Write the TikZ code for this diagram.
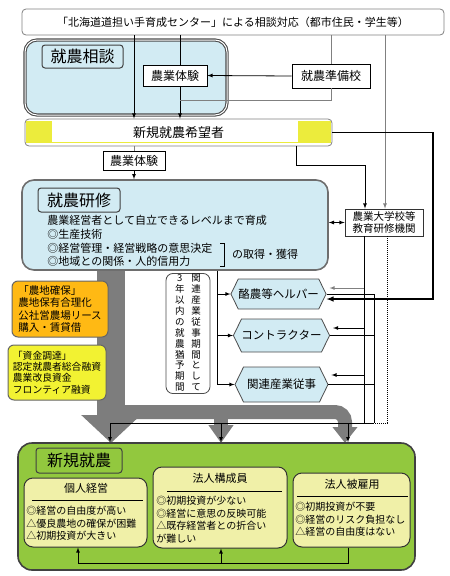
\documentclass[tikz,border=0pt]{standalone}
\usepackage{fontspec}
\setmainfont{Noto Sans CJK JP}
\usetikzlibrary{shapes.symbols, arrows.meta, positioning, backgrounds}

\definecolor{paleblue}{RGB}{210,235,243}
\definecolor{farmorange}{RGB}{255,185,20}
\definecolor{fundyellow}{RGB}{242,242,50}
\definecolor{markyellow}{RGB}{236,236,60}
\definecolor{startgreen}{RGB}{146,200,62}
\definecolor{paleyellow}{RGB}{240,240,168}
\definecolor{flowgray}{RGB}{125,125,125}
\definecolor{edgegray}{RGB}{110,110,110}

\begin{document}
\begin{tikzpicture}[x=1pt, y=-1pt, >=latex, line width=0.8pt,
    box/.style={draw, rectangle, fill=white, inner sep=1pt, font=\fontsize{12}{14}\selectfont},
    dims/.style 2 args={minimum width=#1pt, minimum height=#2pt},
    panel/.style={draw=edgegray, fill=paleblue, rounded corners=12pt, line width=1.6pt},
    tag/.style={draw=black!75, fill=paleblue, rounded corners=3pt, line width=1pt, inner sep=0pt, font=\fontsize{16}{18}\selectfont},
    hexa/.style={signal, signal to=west and east, signal pointer angle=128, draw=black!70, fill=paleblue, inner sep=0pt, font=\fontsize{11.5}{13}\selectfont},
    aid/.style={draw=black!60, rounded corners=6pt, line width=1pt, align=left, inner sep=2pt},
    choice/.style={draw=black!80, fill=paleyellow, rounded corners=9pt, line width=1pt},
    head/.style={inner sep=0pt, font=\fontsize{11}{13}\selectfont},
    merit/.style={anchor=north west, align=left, inner sep=0pt, font=\fontsize{10}{12.4}\selectfont},
    feed/.style={draw=gray},
    bigflow/.style={draw=flowgray, -{Triangle[#1]}}
  ]
  \useasboundingbox (0,0) rectangle (450,576);

  % Nodes
  \node[box, draw=gray, rounded corners=4pt, dims={422}{26}, font=\fontsize{11}{13}\selectfont] (center) at (233,22)
    {「北海道道担い手育成センター」による相談対応（都市住民・学生等）};

  \node[panel, draw=black!70, double=white, double distance=1pt, line width=1.1pt, dims={202}{75}] (soudan) at (126,77.5) {};
  \node[tag, dims={81}{23}] (soudanTag) at (82.5,56.5) {就農相談};
  \node[box, dims={64}{21}] (taiken1) at (175,75.5) {農業体験};
  \node[box, dims={78}{24}] (junbi) at (331,76) {就農準備校};

  \node[box, draw=gray, rounded corners=4pt, dims={307}{27}, font=\fontsize{13}{15}\selectfont] (kibou) at (178.5,132.5) {新規就農希望者};
  \fill[markyellow] ([xshift=1pt,yshift=-2pt]kibou.north west) rectangle ([xshift=27pt,yshift=3pt]kibou.south west);
  \fill[markyellow] ([xshift=-34pt,yshift=-2pt]kibou.north east) rectangle ([xshift=-1pt,yshift=3pt]kibou.south east);
  \draw[markyellow, line width=1pt] ([xshift=2pt,yshift=3.5pt]kibou.south west) -- ([xshift=-2pt,yshift=3.5pt]kibou.south east);

  \node[box, dims={62}{19}] (taiken2) at (134,160.5) {農業体験};

  \node[panel, dims={306}{90}] (kenshu) at (175,225) {};
  \node[tag, dims={82}{24}] (kenshuTag) at (79,200) {就農研修};
  \node[anchor=north west, align=left, inner sep=0pt, font=\fontsize{11}{13.7}\selectfont] (kenshuTxt) at (47,215)
    {農業経営者として自立できるレベルまで育成\\◎生産技術\\◎経営管理・経営戦略の意思決定\\◎地域との関係・人的信用力};
  \node[inner sep=0pt, font=\fontsize{11}{13}\selectfont] (gain) at (265,254) {の取得・獲得};
  \draw[line width=0.6pt] (220,243) -- (224,243) -- (224,266) -- (220,266);

  \node[box, draw=black!80, dims={78}{27}, align=center, inner sep=0pt, font=\fontsize{10.5}{12}\selectfont] (daigaku) at (384,222.5)
    {農業大学校等\\教育研修機関};

  \node[draw=black!70, rounded corners=7pt, fill=white, dims={44}{113}, inner sep=0pt, font=\fontsize{9.5}{10.2}\selectfont] (grace) at (188,333.5)
    {\setlength{\tabcolsep}{3.5pt}\begin{tabular}{@{}cc@{}}
      3&関\\年&連\\以&産\\内&業\\の&従\\就&事\\農&期\\猶&間\\予&と\\期&し\\間&て
    \end{tabular}};

  \node[hexa, dims={93}{30}] (helper) at (278.5,294) {酪農等ヘルパー};
  \node[hexa, dims={93}{33}] (contractor) at (281.5,335.5) {コントラクター};
  \node[hexa, dims={93}{35}] (related) at (281.5,384.5) {関連産業従事};

  \node[aid, fill=farmorange, dims={96}{56}, font=\fontsize{10.5}{12.3}\selectfont] (land) at (60,309)
    {「農地確保」\\農地保有合理化\\公社営農場リース\\購入・賃貸借};
  \node[aid, fill=fundyellow, dims={98}{55}, font=\fontsize{9.8}{11.2}\selectfont] (fund) at (57,372.5)
    {「資金調達」\\認定就農者総合融資\\農業改良資金\\フロンティア融資};

  \node[draw=black!75, fill=startgreen, rounded corners=14pt, line width=1.6pt, dims={397}{127}] (start) at (216.5,506.5) {};
  \node[tag, fill=startgreen, dims={86}{25}] (startTag) at (79,460.5) {新規就農};

  \node[choice, dims={123}{69}] (solo) at (85.5,512.5) {};
  \node[head] (soloT) at (86,488) {個人経営};
  \draw (32,500) -- (143,500);
  \node[merit] (soloTxt) at (26,506) {◎経営の自由度が高い\\△優良農地の確保が困難\\△初期投資が大きい};

  \node[choice, dims={134}{81}] (member) at (220,507.5) {};
  \node[head] (memberT) at (220,478) {法人構成員};
  \draw (167,491) -- (282,491);
  \node[merit] (memberTxt) at (156,496) {◎初期投資が少ない\\◎経営に意思の反映可能\\△既存経営者との折合い\\が難しい};

  \node[choice, dims={117}{74}] (staff) at (351.5,510) {};
  \node[head] (staffT) at (352,484) {法人被雇用};
  \draw (297,496) -- (408,496);
  \node[merit] (staffTxt) at (295,502) {◎初期投資が不要\\◎経営のリスク負担なし\\△経営の自由度はない};

  % Big flow arrows
  \begin{scope}[on background layer]
    \draw[bigflow={length=28pt, width=58pt}, line width=28pt] (111,268) -- (111,443);
    \draw[bigflow={length=16pt, width=24pt}, line width=14pt, rounded corners=10pt] (111,412) -- (345,412) -- (345,443);
    \draw[bigflow={length=18pt, width=24pt}, line width=14pt] (221,412) -- (221,443);
  \end{scope}

  % Connections
  \coordinate (c134) at (134,0);
  \coordinate (c180) at (180,0);
  \coordinate (c385) at (385,0);
  \coordinate (jb) at (180,100);
  \coordinate (kb) at (296,165);
  \coordinate (kd) at (365,165);
  \coordinate (kr) at (433,299);
  \coordinate (tr) at (217,0);
  \coordinate (da) at (364,423);
  \coordinate (in1) at (364,288);
  \coordinate (in2) at (364,328);
  \coordinate (in3) at (364,375);
  \coordinate (rt) at (374,423);
  \coordinate (dt) at (387,423);
  \coordinate (b1) at (110,423);
  \coordinate (b2) at (221,423);
  \coordinate (b3) at (348,423);
  \coordinate (lp) at (78,563);

  \draw[->] (center.south -| c134) -- (kibou.north -| c134);
  \draw (center.south -| c180) -- (taiken1.north -| c180);
  \draw[->] (taiken1.south -| c180) -- (kibou.north -| c180);
  \draw[feed] (center.south -| junbi) -- (junbi.north);
  \draw[->] (junbi.west) -- (taiken1.east);
  \draw[feed] (junbi.south) |- (jb);
  \draw[feed, ->] (center.south -| c385) -- (daigaku.north -| c385);

  \draw[feed] (kibou.south -| taiken2) -- (taiken2.north);
  \draw[->] (taiken2.south) -- (kenshu.north -| taiken2);
  \draw[->] (kibou.south -| kb) -- (kb) -- (kd) -- (daigaku.north -| kd);
  \draw[->, line width=1.4pt] (kibou.east) -| (kr) -- (kr -| helper.east);
  \draw[<->] (daigaku.west) -- (daigaku.west -| kenshu.east);

  \draw[->] (kenshu.south -| tr) |- (related.west);
  \draw[->] (tr |- helper.west) -- (helper.west);
  \draw[->] (tr |- contractor.west) -- (contractor.west);

  \draw (daigaku.south -| da) -- (da);
  \draw[feed, ->, shorten >=3pt] (in1) -- (in1 -| helper.east);
  \draw[->, shorten >=3pt] (in2) -- (in2 -| contractor.east);
  \draw[->, shorten >=3pt] (in3) -- (in3 -| related.east);
  \draw (helper.east) -- (helper.east -| rt) -- (rt);
  \draw (contractor.east) -- (contractor.east -| rt);
  \draw (related.east) -- (related.east -| rt);
  \draw[densely dotted, line width=1pt] (daigaku.south -| dt) -- (dt) -- (rt);

  \draw (b1) -- (rt);
  \draw[->] (b1) -- (start.north -| b1);
  \draw[->] (b2) -- (start.north -| b2);
  \draw[->] (b3) -- (start.north -| b3);

  \draw[->] (staff.south -| b3) |- (lp) -- (solo.south -| lp);
  \draw[->] (b2 |- lp) -- (member.south -| b2);
\end{tikzpicture}
\end{document}
